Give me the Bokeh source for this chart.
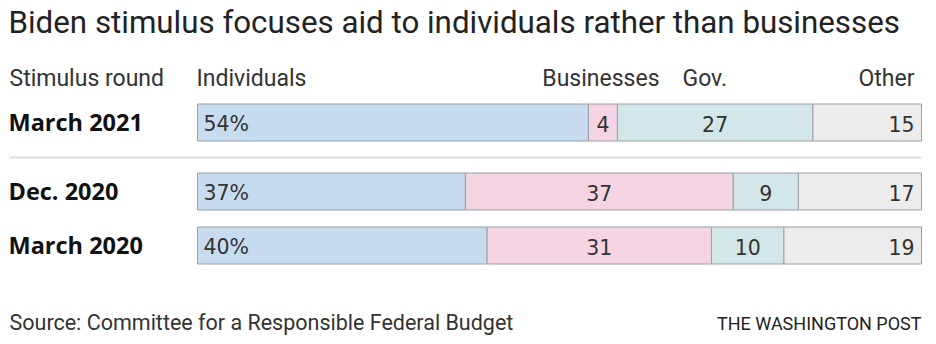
from bokeh.plotting import figure
from bokeh.models import Range1d, Label, ColumnDataSource
from bokeh.core.properties import value
from bokeh.embed import file_html
from bokeh.resources import INLINE

# ---- data ----
rounds = ["March 2021", "Dec. 2020", "March 2020"]
categories = ["Individuals", "Businesses", "Gov.", "Other"]
individuals = [54, 37, 40]
businesses = [4, 37, 31]
gov = [27, 9, 10]
other = [15, 17, 19]

title = "Biden stimulus focuses aid to individuals rather than businesses"
source_text = "Source: Committee for a Responsible Federal Budget"
credit = "THE WASHINGTON POST"

# ---- layout ----
W, H = 936, 344
bar_left_px, bar_right_px = 197, 921
scale = (bar_right_px - bar_left_px) / 100.0
row_y = [122, 191, 245]          # row centres, px from top
bar_h = 37
colors = ["#c8dcef", "#f5d5e4", "#d4e7e8", "#ececec"]
edge = "#9aa0a6"
FONT = "Roboto"
NUM_FONT = "DejaVu Sans"

p = figure(width=W, height=H, output_backend="svg", toolbar_location=None,
           x_range=Range1d(-bar_left_px / scale, (W - bar_left_px) / scale),
           y_range=Range1d(H, 0), min_border=0)
p.axis.visible = False
p.grid.visible = False
p.outline_line_color = None
p.background_fill_color = "white"
p.border_fill_color = "white"

series = [individuals, businesses, gov, other]
lefts = [0.0] * len(rounds)
for ci, vals in enumerate(series):
    rights = [l + v for l, v in zip(lefts, vals)]
    src = ColumnDataSource(dict(y=row_y, left=lefts, right=rights))
    p.hbar(y="y", left="left", right="right", height=bar_h, source=src,
           fill_color=colors[ci], line_color=edge, line_width=1)
    if ci == 0:
        xs = [l + 6 / scale for l in lefts]
        txt = [f"{v}%" for v in vals]
        align = "left"
    elif ci == len(series) - 1:
        xs = [r - 7 / scale for r in rights]
        txt = [str(v) for v in vals]
        align = "right"
    else:
        xs = [(l + r) / 2 for l, r in zip(lefts, rights)]
        txt = [str(v) for v in vals]
        align = "center"
    tsrc = ColumnDataSource(dict(x=xs, y=[y + 1 for y in row_y], t=txt))
    p.text(x="x", y="y", text="t", source=tsrc, text_align=align,
           text_baseline="middle", text_font=value(NUM_FONT),
           text_font_size="20.5px", text_color="#333333")
    lefts = rights

# separator line
p.line(x=[(9 - bar_left_px) / scale, 100], y=[157, 157],
       line_color="#dddddd", line_width=2)

# row labels
for r, y in zip(rounds, row_y):
    p.add_layout(Label(x=8, y=y - 1, x_units="screen", y_units="data", text=r,
                       text_font="Open Sans", text_font_style="bold",
                       text_font_size="23.5px", text_baseline="middle",
                       text_color="#111111"))

def slabel(x, ymid, text, size, align="left", color="#222222"):
    p.add_layout(Label(x=x, y=ymid, x_units="screen", y_units="data",
                       text=text, text_font=FONT, text_font_size=size,
                       text_align=align, text_baseline="middle",
                       text_color=color))

slabel(8, 22, title, "31.3px", color="#222222")
slabel(9, 78, "Stimulus round", "23px", color="#333333")
slabel(196, 78, categories[0], "23px", color="#333333")
slabel(659, 78, categories[1], "23px", align="right", color="#333333")
slabel(682, 78, categories[2], "23px", color="#333333")
slabel(914, 78, categories[3], "23px", align="right", color="#333333")
slabel(9, 322, source_text, "21.5px", color="#333333")
slabel(921, 323, credit, "18px", align="right", color="#222222")

open("out.html", "w").write(file_html(p, INLINE))
